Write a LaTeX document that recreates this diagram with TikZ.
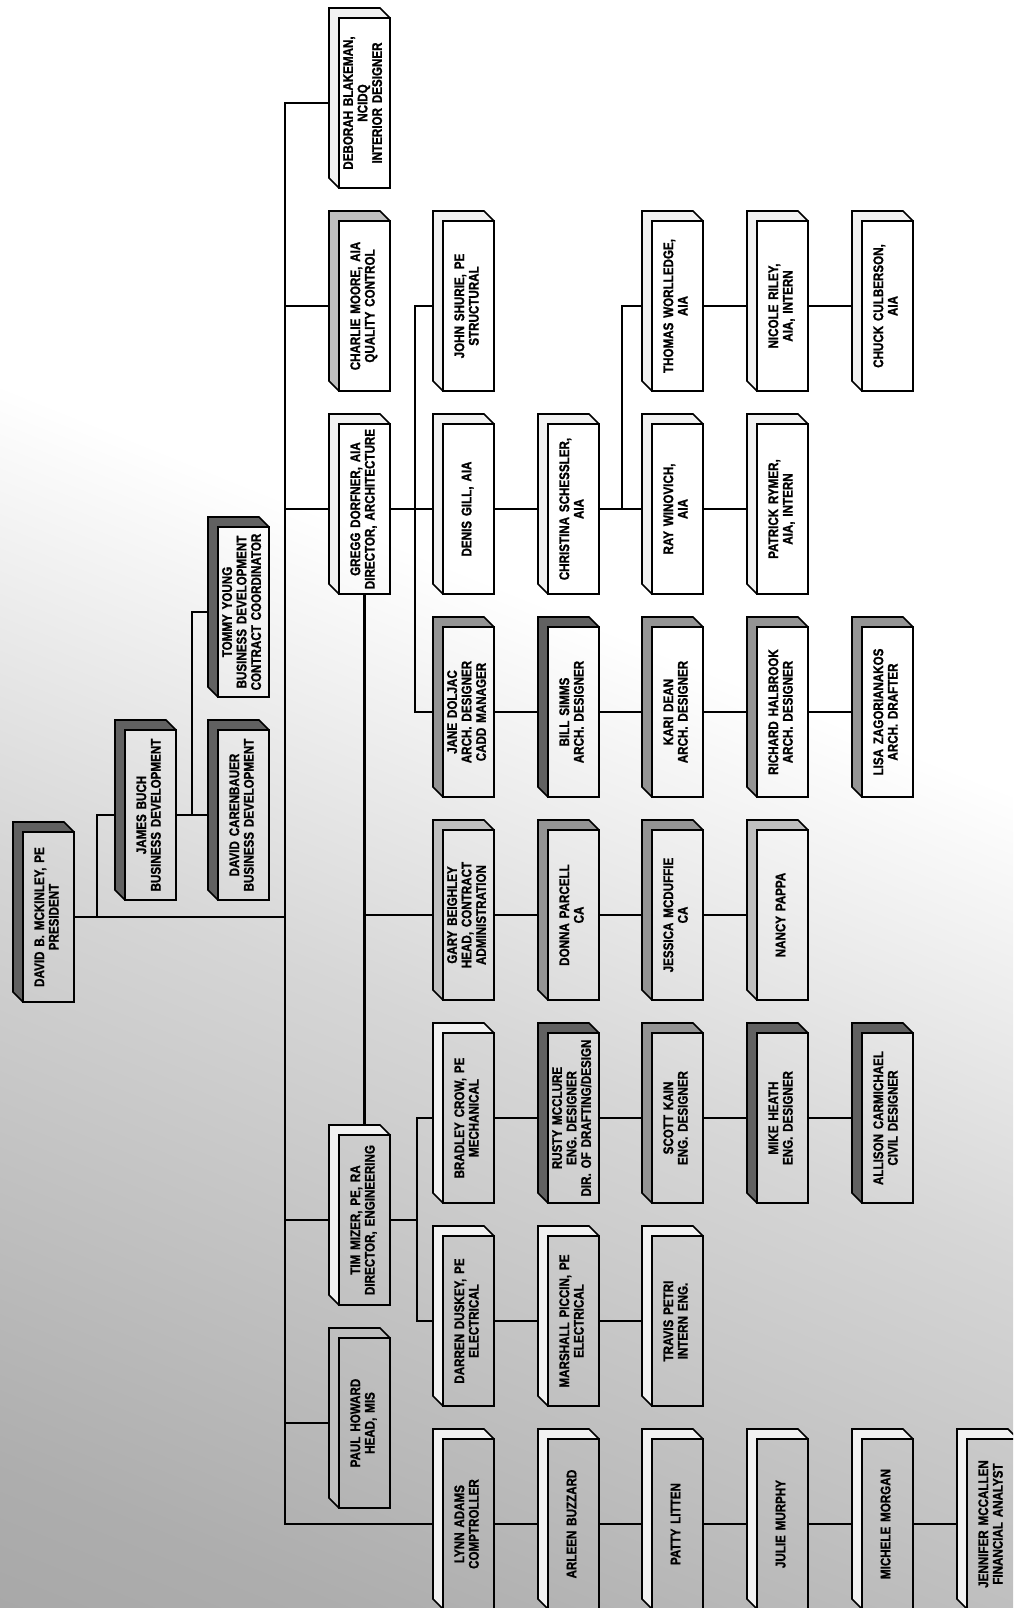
\documentclass[tikz,border=0pt]{standalone}
\usepackage{fontspec}
\newfontfamily\cf[FakeStretch=0.83, WordSpace=1.5, BoldFeatures={FakeBold=1.2}]{Liberation Sans}
\usetikzlibrary{calc}
\pgfdeclareverticalshading{bgshade}{100bp}{color(0bp)=(black!42); color(22bp)=(black!32); color(42bp)=(black!16); color(57bp)=(white); color(100bp)=(white)}
\colorlet{shL}{black!5}
\colorlet{shM}{black!25}
\colorlet{shD}{black!42}
\colorlet{shDD}{black!62}
\tikzset{
  conn/.style={line width=2.2pt},
  front/.style={draw, line width=2.5pt, minimum width=51pt, minimum height=170pt, inner sep=0pt,
    font=\cf\bfseries\fontsize{14}{14.5}\selectfont},
  sideline/.style={line width=1.6pt, line join=miter},
}
\newcommand\obox[5]{%
  \fill[#4] (#2-10,#3-10) -- (#2+41,#3-10) -- (#2+51,#3) -- (#2,#3) -- (#2,#3+170) -- (#2-10,#3+160) -- cycle;
  \draw[sideline] (#2,#3+170) -- (#2-10,#3+160) -- (#2-10,#3-10) -- (#2+41,#3-10) -- (#2+51,#3);
  \node[front] (#1) at (#2+25.5,#3+85) {\rotatebox{90}{\begin{tabular}{@{}c@{}}#5\end{tabular}}};
  \coordinate (#1-l) at (#2-10,#3+85);
  \coordinate (#1-t) at (#2+25.5,#3-10);
}
\begin{document}
\begin{tikzpicture}[x=1pt,y=-1pt]
\useasboundingbox (0,0) rectangle (1013,1608);
\clip (0,0) rectangle (1013,1608);
\shade[shading=bgshade, shading angle=-22] (0,0) rectangle (1013,1608);

% row A
\obox{deborah}{339}{18}{shL}{DEBORAH BLAKEMAN,\\NCIDQ\\INTERIOR DESIGNER}
% row B
\obox{charlie}{339}{221}{shM}{CHARLIE MOORE, AIA\\QUALITY CONTROL}
\obox{john}{443}{221}{shL}{JOHN SHURIE, PE\\STRUCTURAL}
\obox{thomas}{652}{221}{shL}{THOMAS WORLLEDGE,\\AIA}
\obox{nicole}{757}{221}{shL}{NICOLE RILEY,\\AIA, INTERN}
\obox{chuck}{862}{221}{shL}{CHUCK CULBERSON,\\AIA}
% row C
\obox{gregg}{339}{424}{shL}{GREGG DORFNER, AIA\\DIRECTOR, ARCHITECTURE}
\obox{denis}{443}{424}{shL}{DENIS GILL, AIA}
\obox{christina}{548}{424}{shL}{CHRISTINA SCHESSLER,\\AIA}
\obox{ray}{652}{424}{shL}{RAY WINOVICH,\\AIA}
\obox{patrick}{757}{424}{shL}{PATRICK RYMER,\\AIA, INTERN}
% row D
\obox{jane}{443}{627}{shD}{JANE DOLJAC\\ARCH. DESIGNER\\CADD MANAGER}
\obox{bill}{548}{627}{shDD}{BILL SIMMS\\ARCH. DESIGNER}
\obox{kari}{652}{627}{shD}{KARI DEAN\\ARCH. DESIGNER}
\obox{richard}{757}{627}{shD}{RICHARD HALBROOK\\ARCH. DESIGNER}
\obox{lisa}{862}{627}{shD}{LISA ZAGORIANAKOS\\ARCH. DRAFTER}
% president group
\obox{tommy}{218}{527}{shDD}{TOMMY YOUNG\\BUSINESS DEVELOPMENT\\CONTRACT COORDINATOR}
\obox{james}{125}{730}{shDD}{JAMES BUCH\\BUSINESS DEVELOPMENT}
\obox{davidc}{218}{730}{shDD}{DAVID CARENBAUER\\BUSINESS DEVELOPMENT}
\obox{mckinley}{23}{832}{shDD}{DAVID B. MCKINLEY, PE\\PRESIDENT}
% row E
\obox{gary}{443}{830}{shM}{GARY BEIGHLEY\\HEAD, CONTRACT\\ADMINISTRATION}
\obox{donna}{548}{830}{shD}{DONNA PARCELL\\CA}
\obox{jessica}{652}{830}{shD}{JESSICA MCDUFFIE\\CA}
\obox{nancy}{757}{830}{shM}{NANCY PAPPA}
% row F
\obox{bradley}{443}{1033}{shL}{BRADLEY CROW, PE\\MECHANICAL}
\obox{rusty}{548}{1033}{shDD}{RUSTY MCCLURE\\ENG. DESIGNER\\DIR. OF DRAFTING/DESIGN}
\obox{scott}{652}{1033}{shD}{SCOTT KAIN\\ENG. DESIGNER}
\obox{mike}{757}{1033}{shDD}{MIKE HEATH\\ENG. DESIGNER}
\obox{allison}{862}{1033}{shDD}{ALLISON CARMICHAEL\\CIVIL DESIGNER}
% Tim
\obox{tim}{339}{1135}{shL}{TIM MIZER, PE, RA\\DIRECTOR, ENGINEERING}
% row G
\obox{darren}{443}{1236}{shL}{DARREN DUSKEY, PE\\ELECTRICAL}
\obox{marshall}{548}{1236}{shL}{MARSHALL PICCIN, PE\\ELECTRICAL}
\obox{travis}{652}{1236}{shL}{TRAVIS PETRI\\INTERN ENG.}
% Paul
\obox{paul}{339}{1338}{shM}{PAUL HOWARD\\HEAD, MIS}
% row H
\obox{lynn}{443}{1439}{shL}{LYNN ADAMS\\COMPTROLLER}
\obox{arleen}{548}{1439}{shL}{ARLEEN BUZZARD}
\obox{patty}{652}{1439}{shL}{PATTY LITTEN}
\obox{julie}{757}{1439}{shL}{JULIE MURPHY}
\obox{michele}{862}{1439}{shL}{MICHELE MORGAN}
\obox{jennifer}{967}{1439}{shL}{JENNIFER MCCALLEN\\FINANCIAL ANALYST}

% helper x positions
\coordinate (trunk) at (285,0);
\coordinate (pb) at (97,0);
\coordinate (tb) at (192,0);
\coordinate (g2) at (415,0);
\coordinate (g4) at (622,0);
\coordinate (t2) at (417,0);

% main trunk
\draw[conn] (deborah-l) -- (deborah-l -| trunk) -- (lynn-l -| trunk) -- (lynn-l);
\draw[conn] (charlie-l) -- (charlie-l -| trunk);
\draw[conn] (gregg-l) -- (gregg-l -| trunk);
\draw[conn] (tim-l) -- (tim-l -| trunk);
\draw[conn] (paul-l) -- (paul-l -| trunk);
\draw[conn] (mckinley.east) -- (mckinley.east -| trunk);

% president staff
\draw[conn] (mckinley.east -| pb) |- (james-l);
\draw[conn] (james.east) -- (davidc-l);
\draw[conn] (james.east -| tb) |- (tommy-l);

% architecture
\draw[conn] (gregg.east) -- (denis-l);
\draw[conn] (john-l) -| (g2 |- jane-l) -- (jane-l);
\draw[conn] (denis.east) -- (christina-l);
\draw[conn] (christina.east) -- (ray-l);
\draw[conn] (ray.east) -- (patrick-l);
\draw[conn] (christina.east -| g4) |- (thomas-l);
\draw[conn] (thomas.east) -- (nicole-l);
\draw[conn] (nicole.east) -- (chuck-l);
\draw[conn] (jane.east) -- (bill-l);
\draw[conn] (bill.east) -- (kari-l);
\draw[conn] (kari.east) -- (richard-l);
\draw[conn] (richard.east) -- (lisa-l);

% contract administration
\draw[conn] (gregg.south) -- (tim-t);
\draw[conn] (gregg.south |- gary-l) -- (gary-l);
\draw[conn] (gary.east) -- (donna-l);
\draw[conn] (donna.east) -- (jessica-l);
\draw[conn] (jessica.east) -- (nancy-l);

% engineering
\draw[conn] (tim.east) -- (tim.east -| t2);
\draw[conn] (bradley-l) -| (t2 |- darren-l) -- (darren-l);
\draw[conn] (bradley.east) -- (rusty-l);
\draw[conn] (rusty.east) -- (scott-l);
\draw[conn] (scott.east) -- (mike-l);
\draw[conn] (mike.east) -- (allison-l);
\draw[conn] (darren.east) -- (marshall-l);
\draw[conn] (marshall.east) -- (travis-l);

% finance
\draw[conn] (lynn.east) -- (arleen-l);
\draw[conn] (arleen.east) -- (patty-l);
\draw[conn] (patty.east) -- (julie-l);
\draw[conn] (julie.east) -- (michele-l);
\draw[conn] (michele.east) -- (jennifer-l);
\end{tikzpicture}
\end{document}
